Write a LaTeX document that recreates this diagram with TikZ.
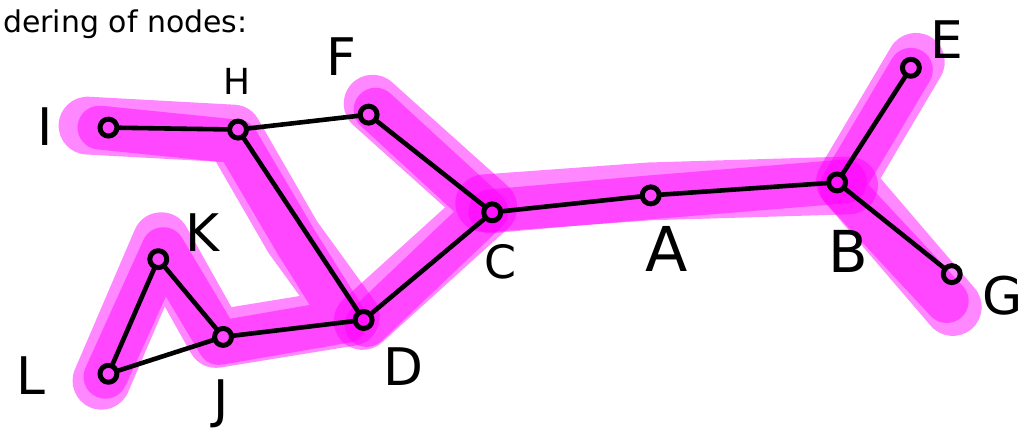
\documentclass[tikz,border=0pt]{standalone}
\usepackage{fontspec}
\setmainfont{DejaVu Sans}
\usetikzlibrary{positioning}
\definecolor{hlPink}{HTML}{FF00FF}

\begin{document}
\begin{tikzpicture}[x=1pt,y=-1pt,line cap=round,line join=round]
\path[fill=white] (0,0) rectangle (1026,436);
\tikzset{hl/.style={draw=hlPink,opacity=0.47,line width=58pt},hlcore/.style={draw=hlPink,opacity=0.47,line width=44pt},vtx/.style={circle,draw=black,line width=5pt,minimum size=17pt,inner sep=0pt},edge/.style={draw=black,line width=4.6pt},lbl/.style={font=\fontsize{52}{52}\selectfont}}
\node[anchor=base west,font=\fontsize{30}{36}\selectfont] (title) at (-2,33) {dering of nodes:};
% highlighted strokes
\draw[hl] (86,126) -- (232,134) -- (292,238) -- (350,318) -- (215,340) -- (160,242) -- (100,382);
\draw[hlcore] (98,128) -- (236,142) -- (296,244) -- (345,322) -- (218,344) -- (162,250) -- (104,378);
\draw[hl] (372,104) -- (488,208) -- (362,322);
\draw[hlcore] (375,110) -- (486,212) -- (366,326);
\draw[hl] (484,204) -- (650,192) -- (850,186);
\draw[hlcore] (490,212) -- (650,198) -- (846,182);
\draw[hl] (917,62) -- (846,182) -- (954,308);
\draw[hlcore] (912,70) -- (842,188) -- (948,302);
% vertices
\node[vtx] (I) at (107,128) {};
\node[vtx] (H) at (237,130) {};
\node[vtx] (F) at (368,115) {};
\node[vtx] (C) at (492,213) {};
\node[vtx] (A) at (651,196) {};
\node[vtx] (B) at (838,183) {};
\node[vtx] (E) at (912,68) {};
\node[vtx] (G) at (953,275) {};
\node[vtx] (D) at (363,321) {};
\node[vtx] (J) at (222,338) {};
\node[vtx] (K) at (157,260) {};
\node[vtx] (L) at (107,375) {};
% labels
\node[lbl] (lI) at (43,127) {I};
\node[lbl,font=\fontsize{36}{36}\selectfont] (lH) at (236,82) {H};
\node[lbl] (lF) at (341,57) {F};
\node[lbl,font=\fontsize{46}{46}\selectfont] (lC) at (500,263) {C};
\node[lbl,font=\fontsize{62}{62}\selectfont] (lA) at (667,250) {A};
\node[lbl,font=\fontsize{58}{58}\selectfont] (lB) at (849,252) {B};
\node[lbl] (lE) at (948,40) {E};
\node[lbl] (lG) at (1004,297) {G};
\node[lbl] (lD) at (403,368) {D};
\node[lbl] (lJ) at (220,405) {J};
\node[lbl] (lK) at (201,233) {K};
\node[lbl] (lL) at (29,377) {L};
% edges
\draw[edge] (I) -- (H);
\draw[edge] (H) -- (F);
\draw[edge] (H) -- (D);
\draw[edge] (F) -- (C);
\draw[edge] (C) -- (A);
\draw[edge] (A) -- (B);
\draw[edge] (B) -- (E);
\draw[edge] (B) -- (G);
\draw[edge] (C) -- (D);
\draw[edge] (D) -- (J);
\draw[edge] (J) -- (K);
\draw[edge] (K) -- (L);
\draw[edge] (L) -- (J);
\end{tikzpicture}
\end{document}
